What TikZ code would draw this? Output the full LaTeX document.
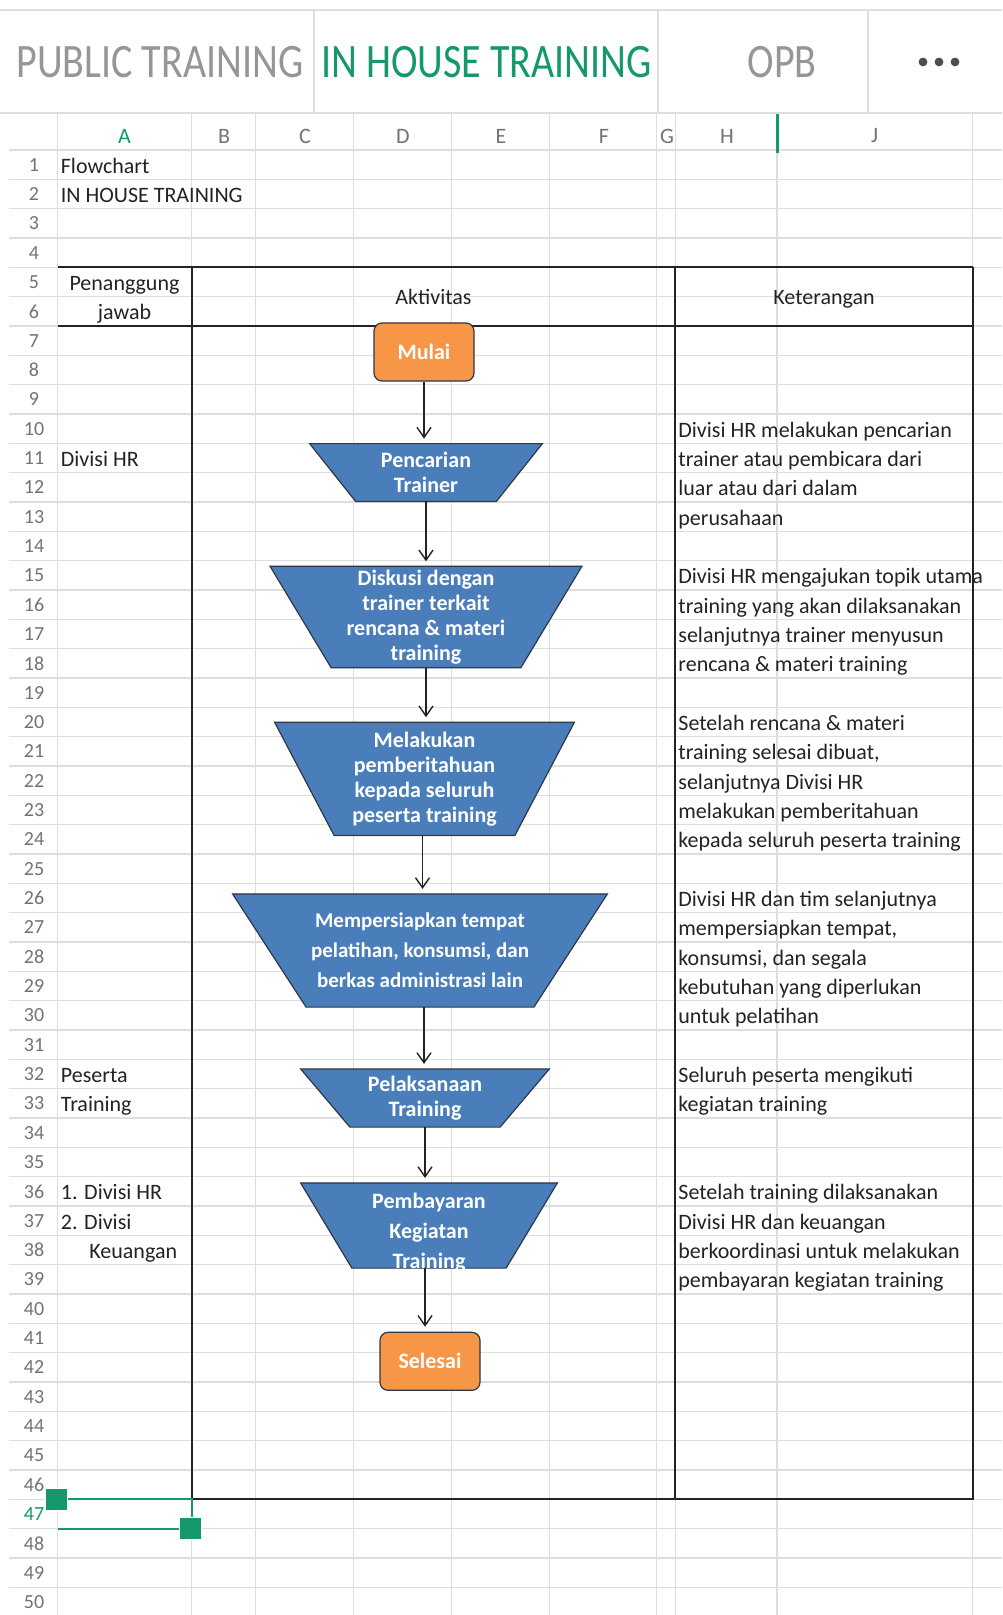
\documentclass[tikz,border=0pt]{standalone}
\usepackage{fontspec}
\setmainfont{Carlito}
\usetikzlibrary{arrows.meta}

\definecolor{sheetgreen}{RGB}{20,152,108}
\definecolor{gridgray}{RGB}{222,222,222}
\definecolor{tabgray}{RGB}{150,150,150}
\definecolor{numgray}{RGB}{115,115,115}
\definecolor{boxblue}{RGB}{74,126,187}
\definecolor{boxline}{RGB}{45,55,70}
\definecolor{boxorange}{RGB}{247,150,70}
\definecolor{inkblack}{RGB}{35,35,35}

\pgfdeclarelayer{boxes}
\pgfdeclarelayer{front}
\pgfsetlayers{main,boxes,front}

% baseline / middle of sheet row #1 (pixels)
\newcommand\rowbase[1]{{173.3+29.33*(#1-1)}}
\newcommand\rowmid[1]{{164.8+29.33*(#1-1)}}

\tikzset{
  cell/.style={anchor=base west, inner sep=0pt, text=inkblack, font=\fontsize{11}{13}\selectfont},
  rownum/.style={inner sep=0pt, text=numgray, font=\fontsize{10}{12}\selectfont},
  colname/.style={inner sep=0pt, text=numgray, font=\fontsize{11}{13}\selectfont},
  tabname/.style={inner sep=0pt, font=\fontsize{20}{22}\selectfont},
  gridline/.style={draw=gridgray, line width=0.6pt},
  tableline/.style={draw=inkblack, line width=1pt},
  stepbox/.style 2 args={rectangle, inner sep=0pt, minimum width=#1, minimum height=#2,
    text=white, align=center, font=\fontsize{11}{12.5}\selectfont\bfseries},
  trapfill/.style={fill=boxblue, draw=boxline, line width=0.6pt},
  endbox/.style={rectangle, rounded corners=4pt, draw=boxline, line width=0.6pt,
    fill=boxorange, text=white, minimum width=50pt, minimum height=29pt,
    font=\fontsize{11}{13}\selectfont\bfseries},
  flowarrow/.style={-{Straight Barb[length=5pt,width=7pt]}, draw=inkblack,
    line width=0.7pt, shorten >=2.5pt},
}

\begin{document}
\begin{tikzpicture}[x=0.5pt, y=-0.5pt]
\useasboundingbox (0,0) rectangle (1002,1615);
\fill[white] (0,0) rectangle (1002,1615);

% sheet tabs
\draw[gridline, line width=1pt] (0,10) -- (1002,10);
\draw[gridline] (0,113) -- (1002,113);
\foreach \x in {314,658,868}
  \draw[gridline] (\x,10) -- (\x,113);
\node[tabname, text=tabgray] (tab1) at (160,62) {\scalebox{1}[1.2]{PUBLIC TRAINING}};
\node[tabname, text=sheetgreen] (tab2) at (486.5,62) {\scalebox{1}[1.2]{IN HOUSE TRAINING}};
\node[tabname, text=tabgray] (tab3) at (782,62) {\scalebox{1}[1.2]{OPB}};
\foreach \x in {923,939,955}
  \fill[black!70] (\x,62) circle (2.2pt);

% grid
\foreach \k in {0,...,49}
  \draw[gridline] (9,{150.1+29.33*\k}) -- (1002,{150.1+29.33*\k});
\foreach \x in {57.5,191.5,255.6,353.4,451.8,549.5,656.2,675.4,777,972.5}
  \draw[gridline] (\x,113) -- (\x,1615);

% column letters
\node[colname, text=sheetgreen] (colA) at (124.5,136) {A};
\foreach \x/\c in {224/B,305/C,403/D,501/E,604/F,667/G,727/H,874.5/J}
  \node[colname] (col\c) at (\x,136) {\c};
\fill[sheetgreen] (775.5,114) rectangle (778.5,153);

% row numbers
\foreach \r in {1,...,46,48,49,50}
  \node[rownum] (row\r) at (34,\rowmid{\r}) {\r};
\node[rownum, text=sheetgreen] (row47) at (34,\rowmid{47}) {47};

% column A
\node[cell] (title) at (60.5,\rowbase{1}) {Flowchart};
\node[cell] (subtitle) at (60.5,\rowbase{2}) {IN HOUSE TRAINING};
\node[cell, anchor=base] (pj1) at (124.5,\rowbase{5}) {Penanggung};
\node[cell, anchor=base] (pj2) at (124.5,\rowbase{6}) {jawab};
\node[cell, anchor=base] (akt) at (433.5,304.5) {Aktivitas};
\node[cell, anchor=base] (ket) at (824,304.5) {Keterangan};
\node[cell] (pic1) at (60.5,\rowbase{11}) {Divisi HR};
\node[cell] (pic2) at (60.5,\rowbase{32}) {Peserta};
\node[cell] (pic3) at (60.5,\rowbase{33}) {Training};
\node[cell] (pic4) at (60.5,\rowbase{36}) {1. Divisi HR};
\node[cell] (pic5) at (60.5,\rowbase{37}) {2. Divisi};
\node[cell] (pic6) at (89,\rowbase{38}) {Keuangan};

% column J
\foreach \r/\t in {10/Divisi HR melakukan pencarian, 11/trainer atau pembicara dari,
    12/luar atau dari dalam, 13/perusahaan,
    15/Divisi HR mengajukan topik utama, 16/training yang akan dilaksanakan,
    17/selanjutnya trainer menyusun, 18/rencana \& materi training,
    20/Setelah rencana \& materi, 21/{training selesai dibuat,},
    22/selanjutnya Divisi HR, 23/melakukan pemberitahuan,
    24/kepada seluruh peserta training,
    26/Divisi HR dan tim selanjutnya, 27/{mempersiapkan tempat,},
    28/{konsumsi, dan segala}, 29/kebutuhan yang diperlukan, 30/untuk pelatihan,
    32/Seluruh peserta mengikuti, 33/kegiatan training,
    36/Setelah training dilaksanakan, 37/Divisi HR dan keuangan,
    38/berkoordinasi untuk melakukan, 39/pembayaran kegiatan training}
  \node[cell] (ket\r) at (678,\rowbase{\r}) {\t};

% table borders
\draw[tableline] (57.5,267.4) -- (972.5,267.4);
\draw[tableline] (57.5,326.1) -- (972.5,326.1);
\draw[tableline] (191.5,267.4) -- (191.5,1499.3) -- (972.5,1499.3) -- (972.5,267.4);
\draw[tableline] (675.4,267.4) -- (675.4,1499.3);

% flowchart
\begin{pgfonlayer}{front}
\node[endbox] (mulai) at (424,352) {Mulai};
\node[stepbox={116pt}{28.5pt}] (cari) at (426,472.5) {Pencarian\\Trainer};
\node[stepbox={155.5pt}{50.3pt}] (diskusi) at (426,617) {Diskusi dengan\\trainer terkait\\rencana \& materi\\training};
\node[stepbox={149.5pt}{56.2pt}] (info) at (424.5,778.8) {Melakukan\\pemberitahuan\\kepada seluruh\\peserta training};
\node[stepbox={187pt}{56.2pt}, font=\fontsize{10.5}{15}\selectfont\bfseries] (siap) at (420,950.5) {Mempersiapkan tempat\\pelatihan, konsumsi, dan\\berkas administrasi lain};
\node[stepbox={124pt}{28.7pt}] (laksana) at (425,1098) {Pelaksanaan\\Training};
\node[stepbox={128pt}{42.2pt}] (bayar) at (429,1225.5) {};
\begin{scope}
  \clip (bayar.north west) -- (bayar.north east) -- ([xshift=-25.65pt]bayar.south east) -- ([xshift=25.65pt]bayar.south west) -- cycle;
  \node[stepbox={0pt}{0pt}, font=\fontsize{11}{15}\selectfont\bfseries] (bayartext) at ([yshift=-3.5pt]bayar.center) {Pembayaran\\Kegiatan\\Training};
\end{scope}
\node[endbox] (selesai) at (430,1361.3) {Selesai};

\draw[flowarrow] (mulai.south) -- (mulai.south |- cari.north);
\draw[flowarrow] (cari.south) -- (cari.south |- diskusi.north);
\draw[flowarrow] (diskusi.south) -- (diskusi.south |- info.north);
\draw[flowarrow] ([xshift=-1pt]info.south) -- ([xshift=-1pt]info.south |- siap.north);
\draw[flowarrow] ([xshift=2pt]siap.south) -- ([xshift=2pt]siap.south |- laksana.north);
\draw[flowarrow] (laksana.south) -- (laksana.south |- bayar.north);
\draw[flowarrow] ([xshift=-2pt]bayar.south) -- ([xshift=-2pt]bayar.south |- selesai.north);
\end{pgfonlayer}

% trapezoids behind the step texts
\begin{pgfonlayer}{boxes}
\foreach \n/\d in {cari/23pt, diskusi/30.5pt, info/29.75pt, siap/36.75pt, laksana/24.65pt, bayar/25.65pt}
  \draw[trapfill] (\n.north west) -- (\n.north east) -- ([xshift=-\d]\n.south east) -- ([xshift=\d]\n.south west) -- cycle;
\end{pgfonlayer}

% selected cell A47
\draw[sheetgreen, line width=1pt] (57,1499.3) -- (191.5,1499.3) -- (191.5,1528.6) -- (57.5,1528.6);
\node[draw=white, fill=sheetgreen, line width=0.5pt, minimum size=11pt, inner sep=0pt] (grip1) at (56.7,1499.3) {};
\node[draw=white, fill=sheetgreen, line width=0.5pt, minimum size=11pt, inner sep=0pt] (grip2) at (190.5,1528.6) {};
\end{tikzpicture}
\end{document}
